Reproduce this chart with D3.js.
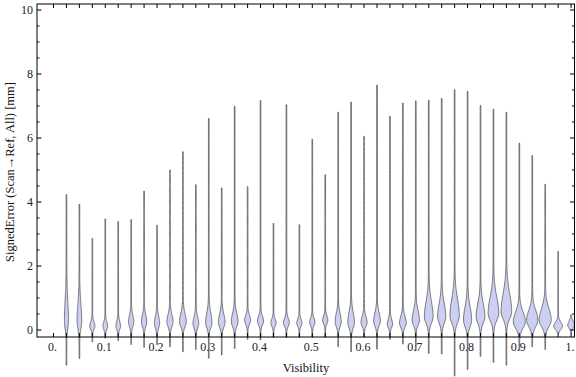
<!DOCTYPE html>
<html>
<head>
<meta charset="utf-8">
<script src="https://cdn.jsdelivr.net/npm/d3@7"></script>
<style>
  html, body { margin: 0; padding: 0; background: #fff; }
  svg { display: block; }
  text { font-family: "Liberation Serif", "DejaVu Serif", serif; }
</style>
</head>
<body>
<svg id="chart" width="576" height="377"></svg>
<script>
// ---- data ----
const visibility = d3.range(1, 41).map(k => k / 40);
const maxError = [4.23, 3.93, 2.86, 3.47, 3.39, 3.45, 4.34, 3.27, 5.00, 5.57,
                  4.54, 6.61, 4.44, 6.99, 4.48, 7.17, 3.33, 7.04, 3.29, 5.96,
                  4.85, 6.81, 7.12, 6.05, 7.65, 6.68, 7.09, 7.16, 7.18, 7.24,
                  7.51, 7.46, 7.02, 6.90, 6.80, 5.84, 5.45, 4.55, 2.45, 0.47];
const minError = [-1.10, -0.89, -0.37, -0.26, -0.33, -0.45, -0.54, -0.46, -0.52, -0.68,
                  -0.61, -0.88, -0.78, -0.58, -0.29, -0.31, -0.23, -0.23, -0.23, -0.23,
                  -0.23, -0.52, -0.68, -0.23, -0.60, -0.29, -0.44, -0.65, -0.73, -0.75,
                  -1.44, -1.23, -0.82, -1.01, -1.10, -0.63, -0.52, -0.61, -0.10, -0.10];
// location of the densest part of each violin
const modeError = [0.30, 0.30, 0.12, 0.12, 0.12, 0.26, 0.26, 0.22, 0.26, 0.26,
                   0.21, 0.22, 0.24, 0.26, 0.31, 0.28, 0.22, 0.22, 0.22, 0.24,
                   0.30, 0.26, 0.24, 0.24, 0.28, 0.18, 0.22, 0.30, 0.42, 0.42,
                   0.45, 0.31, 0.42, 0.52, 0.57, 0.26, 0.31, 0.31, 0.12, 0.15];
// relative peak density (1 = widest)
const peakDensity = [0.28, 0.33, 0.38, 0.33, 0.33, 0.38, 0.38, 0.38, 0.45, 0.50,
                     0.42, 0.47, 0.50, 0.50, 0.45, 0.45, 0.38, 0.43, 0.38, 0.38,
                     0.38, 0.45, 0.50, 0.45, 0.50, 0.38, 0.50, 0.55, 0.67, 0.62,
                     0.72, 0.62, 0.67, 0.83, 0.83, 0.95, 0.88, 0.95, 0.67, 0.50];
// spread of the bulge below / above the mode
const spreadBelow = [0.25, 0.25, 0.10, 0.10, 0.10, 0.15, 0.15, 0.15, 0.15, 0.15,
                     0.14, 0.15, 0.15, 0.15, 0.12, 0.12, 0.10, 0.10, 0.10, 0.10,
                     0.10, 0.15, 0.17, 0.12, 0.15, 0.10, 0.13, 0.15, 0.20, 0.20,
                     0.22, 0.20, 0.20, 0.22, 0.22, 0.20, 0.20, 0.20, 0.10, 0.09];
const spreadAbove = [0.60, 0.50, 0.13, 0.13, 0.15, 0.20, 0.20, 0.20, 0.22, 0.25,
                     0.20, 0.30, 0.25, 0.25, 0.15, 0.15, 0.12, 0.14, 0.12, 0.13,
                     0.13, 0.25, 0.30, 0.18, 0.25, 0.15, 0.20, 0.30, 0.45, 0.40,
                     0.50, 0.40, 0.40, 0.50, 0.55, 0.30, 0.30, 0.35, 0.12, 0.12];
const xTickValues = d3.range(0, 41).map(k => k / 40);
const xTickLabels = ["0.", "0.1", "0.2", "0.3", "0.4", "0.5", "0.6", "0.7", "0.8", "0.9", "1."];
const xLabelValues = [0, 0.1, 0.2, 0.3, 0.4, 0.5, 0.6, 0.7, 0.8, 0.9, 1.0];
const yMajor = [0, 2, 4, 6, 8, 10];
const yMinor = d3.range(0, 10.01, 0.5).filter(v => v % 2 !== 0);

// ---- layout ----
const svg = d3.select("#chart");
const plotL = 37, plotR = 574.5, plotT = 4, plotB = 337;
const x = d3.scaleLinear().domain([-0.0319, 1.0066]).range([plotL, plotR]);
const y = d3.scaleLinear().domain([-0.219, 10.188]).range([plotB, plotT]);
const w = d3.scaleLinear().domain([0, 1]).range([0, 6]);

// ---- violins ----
const violins = visibility.map((v, i) => ({
  pos: v, max: maxError[i], min: minError[i], mode: modeError[i],
  peak: peakDensity[i], sd: spreadBelow[i], su: spreadAbove[i]
}));

const area = d3.area()
  .y(d => y(d.v))
  .x0(d => d.cx - d.hw)
  .x1(d => d.cx + d.hw)
  .curve(d3.curveMonotoneY);

const gV = svg.append("g");
violins.forEach(vd => {
  const n = 160;
  const pts = d3.range(n + 1).map(j => {
    const v = vd.min + (vd.max - vd.min) * j / n;
    const s = v < vd.mode ? vd.sd : vd.su;
    const dens = vd.peak * Math.exp(-0.5 * Math.pow((v - vd.mode) / s, 2));
    return { v: v, cx: x(vd.pos), hw: 0.35 + w(dens) };
  });
  gV.append("path")
    .attr("d", area(pts))
    .attr("fill", "#cbd0f3")
    .attr("stroke", "#4d4d4d")
    .attr("stroke-opacity", 0.85)
    .attr("stroke-width", 0.85);
});

// ---- frame ----
const gF = svg.append("g").attr("stroke", "#000").attr("stroke-width", 1).attr("fill", "none");
gF.append("rect").attr("x", plotL).attr("y", plotT).attr("width", plotR - plotL).attr("height", plotB - plotT);

// x ticks (bottom and top, inward)
xTickValues.forEach(t => {
  gF.append("line").attr("x1", x(t)).attr("x2", x(t)).attr("y1", plotB).attr("y2", plotB - 4);
  gF.append("line").attr("x1", x(t)).attr("x2", x(t)).attr("y1", plotT).attr("y2", plotT + 4);
});
// y ticks (left and right, inward)
yMajor.forEach(t => {
  gF.append("line").attr("x1", plotL).attr("x2", plotL + 4.5).attr("y1", y(t)).attr("y2", y(t));
  gF.append("line").attr("x1", plotR).attr("x2", plotR - 4.5).attr("y1", y(t)).attr("y2", y(t));
});
yMinor.forEach(t => {
  gF.append("line").attr("x1", plotL).attr("x2", plotL + 2.5).attr("y1", y(t)).attr("y2", y(t));
  gF.append("line").attr("x1", plotR).attr("x2", plotR - 2.5).attr("y1", y(t)).attr("y2", y(t));
});

// tick labels
const gT = svg.append("g").attr("fill", "#222").attr("font-size", 12);
xLabelValues.forEach((t, i) => {
  gT.append("text").attr("x", x(t) - 1).attr("y", 351).attr("text-anchor", "middle").text(xTickLabels[i]);
});
yMajor.forEach(t => {
  gT.append("text").attr("x", 33).attr("y", y(t) + 4).attr("text-anchor", "end").text(String(t));
});

// axis titles
svg.append("text").attr("x", 306).attr("y", 372).attr("text-anchor", "middle")
  .attr("font-size", 12.5).attr("fill", "#111").text("Visibility");
svg.append("text").attr("transform", "translate(14,172) rotate(-90)").attr("text-anchor", "middle")
  .attr("font-size", 12.5).attr("fill", "#111").text("SignedError (Scan→Ref, All) [mm]");
</script>
</body>
</html>
